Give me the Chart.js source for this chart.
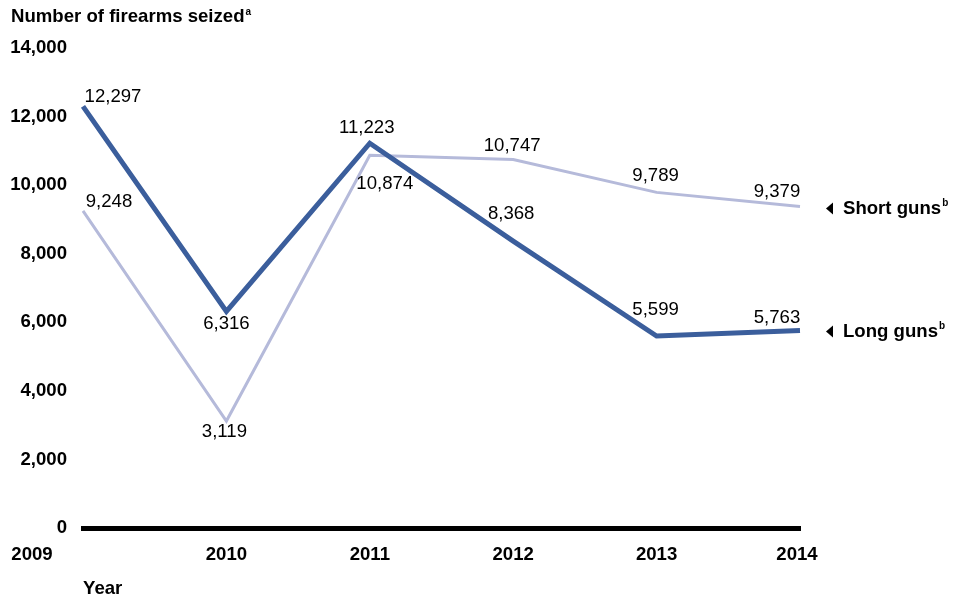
<!DOCTYPE html>
<html lang="en">
  <head>
    <meta charset="UTF-8" />
    <title>Firearms seized</title>
    <script src="https://cdn.jsdelivr.net/npm/chart.js@4"></script>
    <style>
      html, body { margin: 0; padding: 0; background: #fff; }
      #wrap { width: 964px; height: 598px; }
    </style>
  </head>
  <body>
    <div id="wrap"><canvas id="seizedChart" width="964" height="598"></canvas></div>
    <script>
      const years = ["2009", "2010", "2011", "2012", "2013", "2014"];
      const longGuns = [12297, 6316, 11223, 8368, 5599, 5763];
      const shortGuns = [9248, 3119, 10874, 10747, 9789, 9379];
      const yTicks = [0, 2000, 4000, 6000, 8000, 10000, 12000, 14000];

      const FONT = '"Liberation Sans", Arial, sans-serif';
      const DARK = "#3b5e9c";
      const LIGHT = "#b5bada";

      // where each value label sits relative to its point (px)
      const longOffsets = [[30, -10], [0, 12], [-3, -15], [-2, -27], [-1, -26], [-23, -13]];
      const shortOffsets = [[26, -9], [-2, 11], [15, 29], [-1, -14], [-1, -17], [-23, -15]];

      const overlay = {
        id: "overlay",
        afterDatasetsDraw(chart) {
          const ctx = chart.ctx;
          const xs = chart.scales.x;
          ctx.save();
          ctx.fillStyle = "#000";
          ctx.textBaseline = "middle";

          // value labels
          ctx.font = "18.6px " + FONT;
          ctx.textAlign = "center";
          [[0, longOffsets], [1, shortOffsets]].forEach(([di, offs]) => {
            chart.getDatasetMeta(di).data.forEach((pt, i) => {
              const v = chart.data.datasets[di].data[i];
              ctx.fillText(v.toLocaleString("en-US"), pt.x + offs[i][0], pt.y + offs[i][1]);
            });
          });

          // x labels
          ctx.font = "bold 18.6px " + FONT;
          years.forEach((y, i) => {
            let x = xs.getPixelForTick(i);
            if (i === 0) x -= 51;
            if (i === years.length - 1) x -= 3;
            ctx.fillText(y, x, 555);
          });
          ctx.textAlign = "left";
          ctx.fillText("Year", 83, 589);

          // title
          ctx.font = "bold 18.6px " + FONT;
          ctx.fillText("Number of firearms seized", 11, 17);
          const tw = ctx.measureText("Number of firearms seized").width;
          ctx.font = "bold 10px " + FONT;
          ctx.fillText("a", 11 + tw + 1, 12);

          // series labels on the right
          const names = ["Long guns", "Short guns"];
          [0, 1].forEach((di) => {
            const pts = chart.getDatasetMeta(di).data;
            const y = pts[pts.length - 1].y + (di === 0 ? 1 : 2);
            ctx.beginPath();
            ctx.moveTo(826, y);
            ctx.lineTo(833, y - 6);
            ctx.lineTo(833, y + 6);
            ctx.closePath();
            ctx.fill();
            ctx.font = "bold 18.6px " + FONT;
            ctx.fillText(names[di], 843, y);
            const w = ctx.measureText(names[di]).width;
            ctx.font = "bold 10px " + FONT;
            ctx.fillText("b", 843 + w + 1, y - 5);
          });
          ctx.restore();
        },
      };

      new Chart(document.getElementById("seizedChart"), {
        type: "line",
        data: {
          labels: years,
          datasets: [
            {
              label: "Long guns",
              data: longGuns,
              borderColor: DARK,
              borderWidth: 5,
              pointRadius: 0,
              tension: 0,
              borderJoinStyle: "miter",
            },
            {
              label: "Short guns",
              data: shortGuns,
              borderColor: LIGHT,
              borderWidth: 3,
              pointRadius: 0,
              tension: 0,
              borderJoinStyle: "miter",
            },
          ],
        },
        options: {
          responsive: false,
          animation: false,
          layout: { padding: { top: 48, right: 164, left: 0, bottom: 0 } },
          plugins: { legend: { display: false }, tooltip: { enabled: false } },
          scales: {
            x: {
              offset: false,
              grid: { display: false, drawTicks: false },
              border: { display: true, color: "#000", width: 5 },
              ticks: { display: false },
              afterFit(scale) { scale.height = 70; },
            },
            y: {
              min: 0,
              max: 14000,
              grid: { display: false, drawTicks: false },
              border: { display: false },
              afterBuildTicks(scale) { scale.ticks = yTicks.map((v) => ({ value: v })); },
              afterFit(scale) { scale.width = 83; },
              ticks: {
                padding: 16,
                color: "#000",
                font: { family: FONT, size: 18.6, weight: "bold" },
                callback: (v) => v.toLocaleString("en-US"),
              },
            },
          },
        },
        plugins: [overlay],
      });
    </script>
  </body>
</html>
